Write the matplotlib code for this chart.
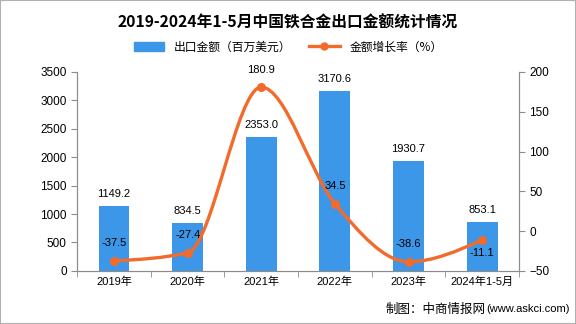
import numpy as np
import matplotlib.pyplot as plt
from matplotlib.path import Path
from matplotlib.patches import PathPatch
from matplotlib.lines import Line2D
from matplotlib.patches import Patch

plt.rcParams['font.family'] = ['Liberation Sans', 'Noto Sans CJK SC', 'DejaVu Sans']

years = ['2019年', '2020年', '2021年', '2022年', '2023年', '2024年1-5月']
export_val = [1149.2, 834.5, 2353.0, 3170.6, 1930.7, 853.1]
growth = [-37.5, -27.4, 180.9, 34.5, -38.6, -11.1]

bar_c = '#3d97e8'
line_c = '#f26b2b'
grey = '#8c8c8c'
cjk = ['Noto Sans CJK SC', 'DejaVu Sans']

fig = plt.figure(figsize=(5.76, 3.24), dpi=100)
ax = fig.add_axes([0.134, 0.164, 0.767, 0.614])
ax2 = ax.twinx()

x = np.arange(len(years))
ax.bar(x, export_val, width=0.42, color=bar_c, zorder=2)
for xi, v in zip(x, export_val):
    ax.annotate(f'{v:.1f}', (xi, v), xytext=(0, 5), textcoords='offset points',
                ha='center', va='bottom', fontsize=8)

ax.set_xlim(-0.5, len(years) - 0.5)
ax.set_ylim(0, 3500)
ax.set_yticks(range(0, 3501, 500))
ax.set_xticks(x)
ax.set_xticklabels(years, fontsize=8)
ax.tick_params(axis='y', labelsize=8.5, colors='black', length=4, color=grey)
ax.tick_params(axis='x', length=0, pad=4)
ax.set_xticks(np.arange(len(years) + 1) - 0.5, minor=True)
ax.tick_params(axis='x', which='minor', length=4, color=grey)

ax2.set_ylim(-50, 200)
ax2.set_yticks(range(-50, 201, 50))
ax2.tick_params(axis='y', labelsize=8.5, length=4, color=grey)

for a in (ax, ax2):
    a.spines['top'].set_visible(False)
    for s in ('left', 'right', 'bottom'):
        a.spines[s].set_color(grey)

# monotone cubic curve through the points (drawn as bezier segments)
xs = x.astype(float)
ys = np.array(growth, dtype=float)
h = np.diff(xs)
s = np.diff(ys) / h
t = np.zeros(len(ys))
for i in range(1, len(ys) - 1):
    p = (s[i - 1] * h[i] + s[i] * h[i - 1]) / (h[i - 1] + h[i])
    t[i] = (np.sign(s[i - 1]) + np.sign(s[i])) * min(abs(s[i - 1]), abs(s[i]), 0.5 * abs(p))
t[0] = (3 * s[0] - t[1]) / 2
t[-1] = (3 * s[-1] - t[-2]) / 2
verts = [(xs[0], ys[0])]
codes = [Path.MOVETO]
for i in range(len(xs) - 1):
    d = h[i] / 3
    verts += [(xs[i] + d, ys[i] + t[i] * d), (xs[i + 1] - d, ys[i + 1] - t[i + 1] * d),
              (xs[i + 1], ys[i + 1])]
    codes += [Path.CURVE4] * 3
ax2.add_patch(PathPatch(Path(verts, codes), fill=False, edgecolor=line_c, lw=2.4,
                        capstyle='round', zorder=3))
ax2.plot(x, growth, 'o', color=line_c, ms=5.5, zorder=4)

for i, (xi, g) in enumerate(zip(x, growth)):
    off = (0, -13) if i == len(x) - 1 else (0, 9)
    ax2.annotate(f'{g:.1f}', (xi, g), xytext=off, textcoords='offset points',
                 ha='center', va='bottom', fontsize=8)

fig.text(0.5, 0.93, '2019-2024年1-5月中国铁合金出口金额统计情况', ha='center', va='center',
         fontsize=11.3, fontweight='bold', family=cjk)

handles = [Patch(color=bar_c), Line2D([], [], color=line_c, lw=2.4, marker='o', ms=5)]
fig.legend(handles, ['出口金额（百万美元）', '金额增长率（%）'], loc='center',
           bbox_to_anchor=(0.5, 0.855), ncol=2, frameon=False,
           handlelength=2.6, handleheight=0.8, columnspacing=1.5,
           prop={'family': cjk, 'size': 8.5})

fig.text(0.843, 0.045, '制图：中商情报网', ha='right', va='center', fontsize=9, family=cjk)
fig.text(0.845, 0.045, '(www.askci.com)', ha='left', va='center', fontsize=8)

fig.patches.append(plt.Rectangle((0, 0), 1, 1, transform=fig.transFigure,
                                 fill=False, edgecolor='#b0b0b0', lw=1.5))

fig.savefig('out.png', dpi=100)
